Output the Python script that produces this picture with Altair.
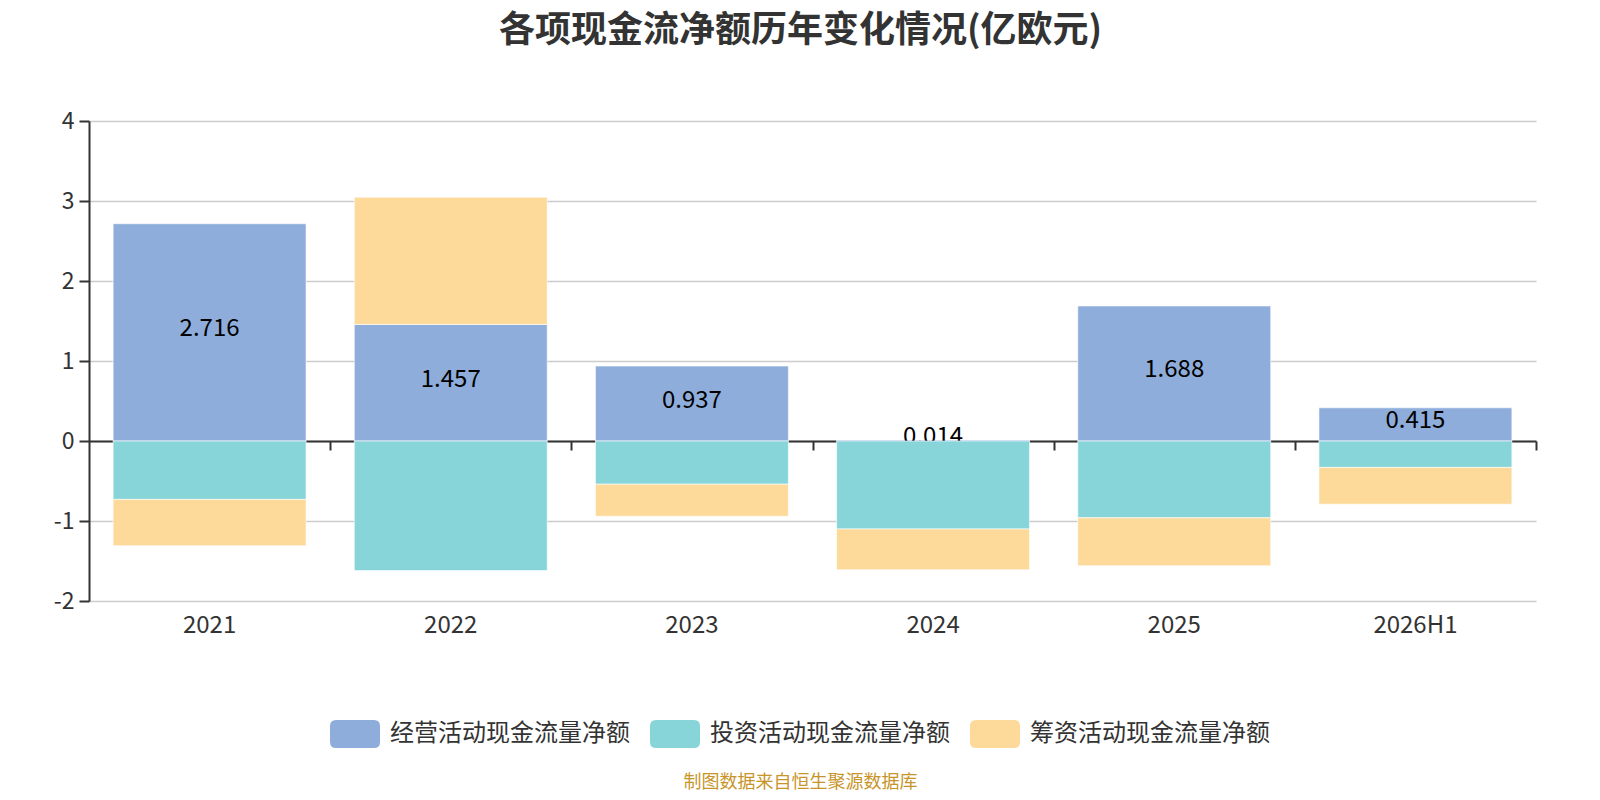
import altair as alt
import pandas as pd

years = ["2021", "2022", "2023", "2024", "2025", "2026H1"]
operating = [2.716, 1.457, 0.937, 0.014, 1.688, 0.415]
investing = [-0.73, -1.62, -0.54, -1.10, -0.96, -0.33]
financing = [-0.58, 1.59, -0.40, -0.51, -0.60, -0.46]
series = ["经营活动现金流量净额", "投资活动现金流量净额", "筹资活动现金流量净额"]
colors = ["#8EADDA", "#87D5D9", "#FDD99A"]

rows = []
for i, y in enumerate(years):
    for k, vals in enumerate([operating, investing, financing]):
        rows.append({"year": y, "series": series[k], "order": k, "value": vals[i]})
df = pd.DataFrame(rows)

FONT = "Noto Sans CJK SC"
W, H = 1447, 480
STEP = W / 6.0

xscale = alt.Scale(domain=years, paddingInner=0.2, paddingOuter=0.1)
yscale = alt.Scale(domain=[-2, 4], nice=False, zero=False)
cscale = alt.Scale(domain=series, range=colors)

legend_path = ("M-0.76,-0.56 L0.76,-0.56 Q1,-0.56 1,-0.32 L1,0.32 Q1,0.56 0.76,0.56 "
               "L-0.76,0.56 Q-1,0.56 -1,0.32 L-1,-0.32 Q-1,-0.56 -0.76,-0.56 Z")

base = alt.Chart(df).transform_stack(
    stack="value", groupby=["year"], as_=["y0", "y1"],
    sort=[alt.SortField("order", order="ascending")]
)

yaxis = alt.Axis(
    values=[-2, -1, 0, 1, 2, 3, 4], grid=True, gridColor="#cccccc", gridWidth=1.5,
    domain=True, domainColor="#333333", domainWidth=2,
    ticks=True, tickColor="#333333", tickWidth=2, tickSize=10,
    labelFontSize=23, labelColor="#333333", labelPadding=5, labelFont=FONT, title=None,
    labelExpr="toString(datum.value)",
)

xaxis_labels = alt.Axis(
    orient="bottom", domain=False, ticks=False, tickSize=0, labelAngle=0,
    labelFontSize=24, labelColor="#333333", labelPadding=12, labelFont=FONT,
    title="制图数据来自恒生聚源数据库", titleFont=FONT, titleFontSize=18,
    titleFontWeight="normal", titleColor="#C8952A", titleX=711, titleY=186,
    titleBaseline="alphabetic", grid=False,
)

xaxis_zero = alt.Axis(
    orient="bottom", offset=-160, domain=True, domainColor="#333333", domainWidth=2,
    ticks=True, tickColor="#333333", tickWidth=2, tickSize=9, tickOffset=STEP / 2,
    labels=False, title=None, grid=False,
)

bars_op = base.transform_filter(alt.datum.order == 0).mark_bar(
    stroke="#ffffff", strokeWidth=1, strokeOpacity=0.6
).encode(
    x=alt.X("year:N", scale=xscale, sort=years, axis=xaxis_labels),
    y=alt.Y("y0:Q", scale=yscale, axis=yaxis),
    y2="y1:Q",
    color=alt.Color("series:N", scale=cscale, sort=series, legend=alt.Legend(
        title=None, orient="none", direction="horizontal", legendX=241, legendY=588,
        symbolType=legend_path, symbolSize=2500, symbolStrokeWidth=0,
        labelFontSize=24, labelFont=FONT, labelColor="#333333", labelOffset=10,
        labelLimit=0, columnPadding=20, padding=0, symbolOpacity=1,
    )),
)

labels = base.transform_filter(alt.datum.order == 0).transform_calculate(
    mid="(datum.y0 + datum.y1) / 2"
).mark_text(fontSize=24, font=FONT, color="#000000", baseline="middle", dy=-3).encode(
    x=alt.X("year:N", scale=xscale, sort=years, axis=xaxis_zero),
    y=alt.Y("mid:Q", scale=yscale, axis=yaxis),
    text=alt.Text("value:Q", format=".3f"),
)

bars_rest = base.transform_filter(alt.datum.order > 0).mark_bar(
    stroke="#ffffff", strokeWidth=1, strokeOpacity=0.6
).encode(
    x=alt.X("year:N", scale=xscale, sort=years, axis=None),
    y=alt.Y("y0:Q", scale=yscale, axis=yaxis),
    y2="y1:Q",
    color=alt.Color("series:N", scale=cscale, sort=series),
)

chart = alt.layer(bars_op, labels, bars_rest).resolve_axis(x="independent").properties(
    width=W, height=H,
    autosize=alt.AutoSizeParams(type="none"),
    padding={"left": 81, "top": 113, "right": 56, "bottom": 191},
    title=alt.Title(
        "各项现金流净额历年变化情况(亿欧元)", font=FONT, fontSize=36, fontWeight="bold",
        color="#333333", anchor="middle", dx=-12, offset=60,
    ),
).configure_view(stroke=None)

chart.save("out.html", embed_options={"renderer": "svg", "actions": False})
